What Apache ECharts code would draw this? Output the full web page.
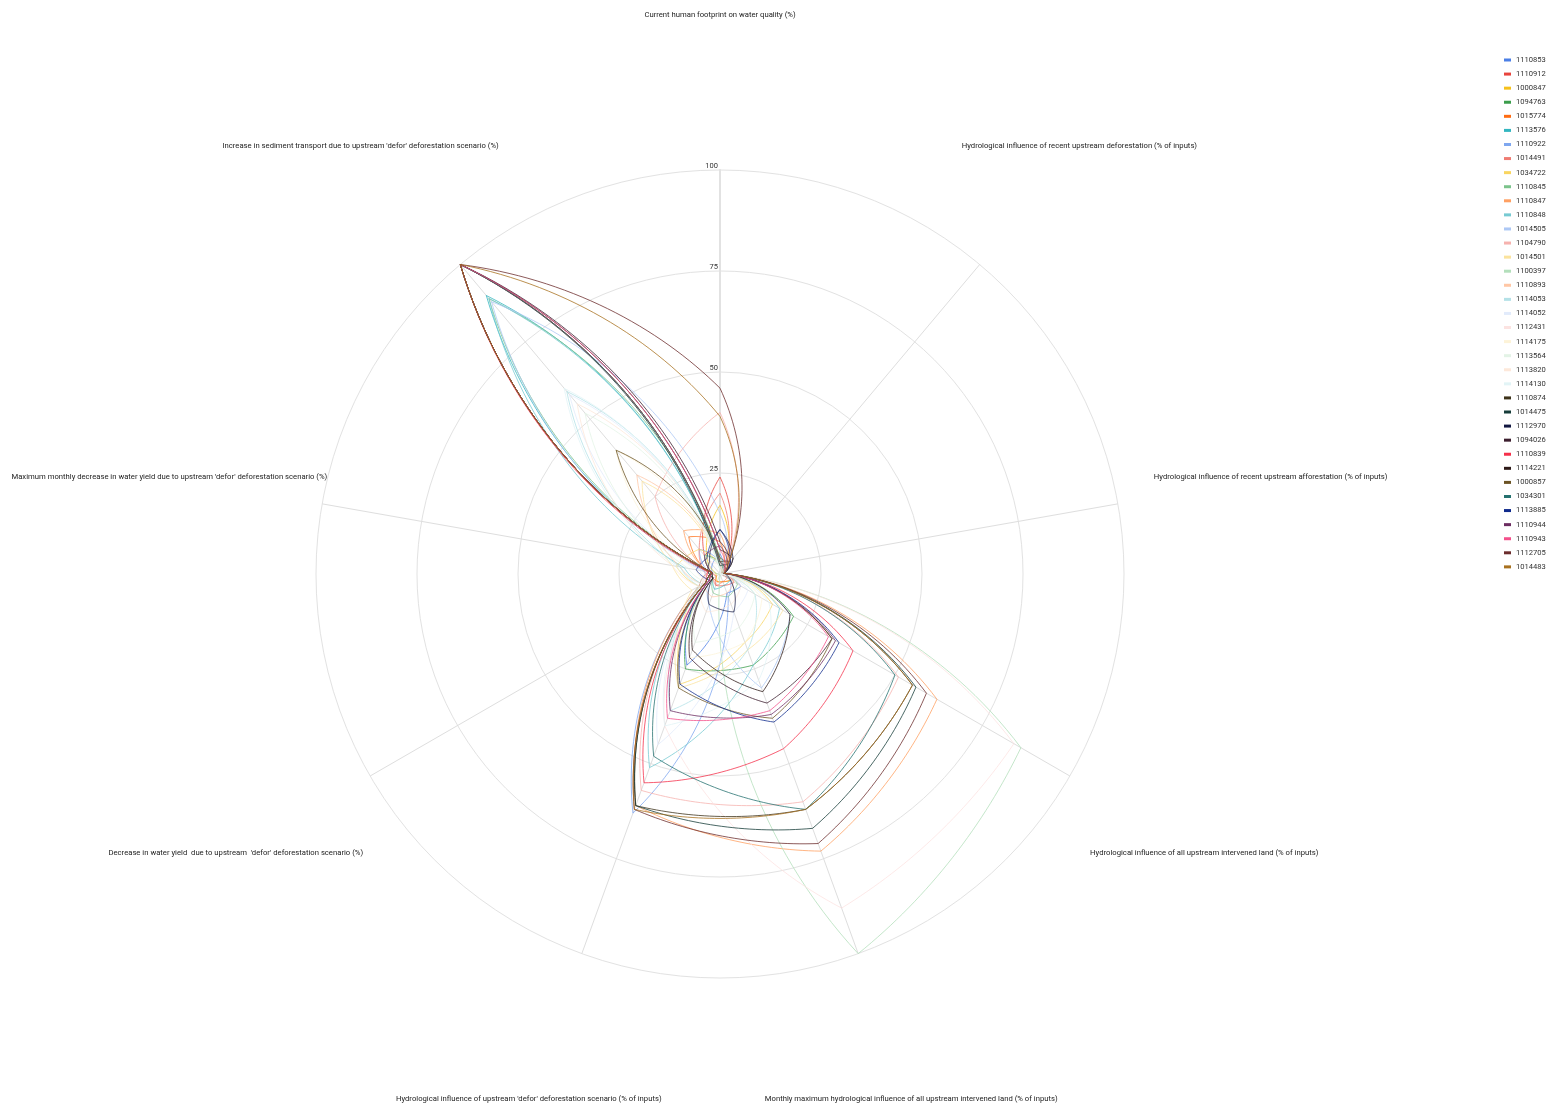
<!DOCTYPE html>
<html>
<head>
<meta charset="utf-8">
<title>Upstream influence profiles</title>
<script src="https://cdn.jsdelivr.net/npm/echarts@6/dist/echarts.min.js"></script>
<style>
  html, body { margin: 0; padding: 0; background: #ffffff; }
  #chart { width: 1554px; height: 1106px; }
</style>
</head>
<body>
<div id="chart"></div>
<script>
// Indicator names, clockwise from the top spoke
const AXIS_NAMES = [
  'Current human footprint on water quality (%)',
  'Hydrological influence of recent upstream deforestation (% of inputs)',
  'Hydrological influence of recent upstream afforestation (% of inputs)',
  'Hydrological influence of all upstream intervened land (% of inputs)',
  'Monthly maximum hydrological influence of all upstream intervened land (% of inputs)',
  "Hydrological influence of upstream 'defor' deforestation scenario (% of inputs)",
  "Decrease in water yield  due to upstream  'defor' deforestation scenario (%)",
  "Maximum monthly decrease in water yield due to upstream 'defor' deforestation scenario (%)",
  "Increase in sediment transport due to upstream 'defor' deforestation scenario (%)"
];

// Basin identifiers (one line each)
const BASINS = [
  '1110853', '1110912', '1000847', '1094763', '1015774', '1113576', '1110922', '1014491',
  '1034722', '1110845', '1110847', '1110848', '1014505', '1104790', '1014501', '1100397',
  '1110893', '1114053', '1114052', '1112431', '1114175', '1113564', '1113820', '1114130',
  '1110874', '1014475', '1112970', '1094026', '1110839', '1114221', '1000857', '1034301',
  '1113885', '1110944', '1110943', '1112705', '1014483'
];

// Values per indicator, in basin order
const FOOTPRINT = [5, 24, 17, 3, 8, 2, 3, 20, 2, 4, 10, 2, 15, 40, 2, 2, 3, 2, 1, 2, 1, 1, 2, 1, 3, 2, 11, 8, 3, 6, 4, 3, 11, 7, 6, 46, 39];
const RECENT_DEFOR = [1, 2, 2, 1, 1, 0, 1, 1, 0, 1, 2, 0, 1, 2, 1, 1, 0, 0, 0, 1, 0, 0, 0, 0, 4, 3, 5, 4, 2, 5, 3, 2, 4, 3, 2, 3, 3];
const RECENT_AFFOR = [0, 1, 0, 1, 0, 0, 0, 0, 1, 1, 1, 1, 0, 1, 0, 1, 0, 0, 0, 1, 0, 0, 0, 0, 1, 1, 1, 1, 1, 1, 1, 1, 1, 1, 1, 1, 1];
const ALL_INTERVENED = [6, 4, 3, 21, 3, 3, 3, 2, 15, 5, 62, 17, 20, 51, 18, 86, 4, 10, 8, 84, 12, 10, 6, 14, 55, 56, 3, 32, 38, 20, 32, 50, 34, 33, 31, 59, 55];
const MONTHLY_MAX = [5, 3, 2, 24, 2, 3, 6, 2, 18, 6, 73, 24, 30, 60, 20, 100, 5, 20, 10, 88, 18, 14, 8, 28, 62, 67, 10, 34, 46, 31, 38, 62, 39, 37, 36, 71, 62];
const DEFOR_SCENARIO = [24, 3, 2, 25, 2, 4, 63, 3, 29, 5, 61, 51, 8, 57, 30, 0, 6, 36, 45, 40, 22, 18, 10, 40, 61, 61, 8, 22, 55, 20, 30, 48, 29, 36, 38, 62, 62];
const YIELD_DECREASE = [4, 1, 1, 3, 2, 2, 6, 2, 6, 2, 6, 5, 3, 5, 8, 0, 5, 6, 4, 3, 4, 4, 6, 5, 4, 4, 2, 2, 4, 2, 3, 4, 3, 3, 3, 4, 4];
const MAX_MONTHLY_DECREASE = [2, 2, 1, 2, 3, 3, 3, 4, 11, 2, 3, 9, 4, 3, 12, 1, 10, 10, 5, 2, 6, 8, 12, 11, 2, 2, 3, 2, 3, 2, 2, 2, 6, 2, 2, 2, 2];
const SEDIMENT = [3, 6, 5, 6, 12, 90, 8, 8, 8, 89, 14, 89, 88, 25, 30, 6, 32, 59, 58, 4, 40, 52, 55, 60, 100, 100, 4, 100, 100, 100, 40, 100, 5, 6, 100, 100, 100];

const RADIUS_TICKS = [0, 25, 50, 75, 100];

// Line colours, in basin order
const PALETTE = [
  '#4b7fe6', '#e8443d', '#f6c11b', '#3b9d4b', '#ff6c12', '#33b6c0', '#7fa7ef', '#ef7c73',
  '#f9d560', '#7bc38b', '#ffa062', '#77cad2', '#adc8f5', '#f6b2ae', '#fbe39d', '#b3dfbb',
  '#ffc7a5', '#b4e1e7', '#e2ebfb', '#fce3e1', '#fdf3d8', '#e3f3e6', '#fde8da', '#e2f4f6',
  '#3d3219', '#163c39', '#121741', '#3c1e2e', '#f5304a', '#2d1917', '#6b5324', '#25716f',
  '#0f2a8c', '#6c2c61', '#f4508b', '#6b2c2c', '#a8711f'
];

const COLUMNS = [FOOTPRINT, RECENT_DEFOR, RECENT_AFFOR, ALL_INTERVENED, MONTHLY_MAX,
  DEFOR_SCENARIO, YIELD_DECREASE, MAX_MONTHLY_DECREASE, SEDIMENT];
const STEP = 360 / AXIS_NAMES.length;
const NAME_RADIUS = 138.4;   // indicator titles sit outside the 0-100 range
const SEGMENT_SAMPLES = 32;
const BULGE = 0.6;           // how far each segment follows the polar (angle-linear) path

// Each segment runs between two spokes, interpolated in polar space and
// eased toward the straight chord so the petals keep their slim shape.
function renderProfile(params, api) {
  const n = AXIS_NAMES.length;
  const vals = [];
  for (let i = 0; i < n; i++) vals.push(api.value(i));
  const pts = [];
  for (let i = 0; i < n; i++) {
    const r0 = vals[i];
    const r1 = vals[(i + 1) % n];
    const a0 = i * STEP;
    const p0 = api.coord([r0, a0]);
    const p1 = api.coord([r1, a0 + STEP]);
    for (let k = 0; k < SEGMENT_SAMPLES; k++) {
      const t = k / SEGMENT_SAMPLES;
      const s = api.coord([r0 + (r1 - r0) * t, a0 + STEP * t]);
      const cx = p0[0] + (p1[0] - p0[0]) * t;
      const cy = p0[1] + (p1[1] - p0[1]) * t;
      pts.push([cx + (s[0] - cx) * BULGE, cy + (s[1] - cy) * BULGE]);
    }
  }
  return {
    type: 'polygon',
    shape: { points: pts },
    style: { fill: 'none', stroke: api.visual('color'), lineWidth: 1, opacity: 0.78 }
  };
}

function renderAxisName(params, api) {
  const idx = api.value(0);
  const p = api.coord([NAME_RADIUS, idx * STEP]);
  return {
    type: 'text',
    x: p[0],
    y: p[1],
    style: {
      text: AXIS_NAMES[idx],
      fill: '#222222',
      font: '7.7px Roboto, sans-serif',
      align: 'center',
      verticalAlign: 'middle'
    }
  };
}

const profileSeries = BASINS.map((id, b) => ({
  name: id,
  type: 'custom',
  coordinateSystem: 'polar',
  dimensions: AXIS_NAMES.map((_, i) => 'v' + i),
  encode: { radius: 0, angle: 1 },
  itemStyle: { color: PALETTE[b] },
  renderItem: renderProfile,
  data: [COLUMNS.map(col => col[b])],
  silent: true,
  z: 3
}));

const chart = echarts.init(document.getElementById('chart'), null, { renderer: 'canvas' });
chart.setOption({
  animation: false,
  backgroundColor: '#ffffff',
  polar: { center: [720, 574], radius: 404 },
  angleAxis: {
    type: 'value',
    min: 0,
    max: 360,
    interval: STEP,
    startAngle: 90,
    clockwise: true,
    axisLine: { show: false },
    axisTick: { show: false },
    axisLabel: { show: false },
    splitLine: { show: true, lineStyle: { color: '#dedede', width: 1 } }
  },
  radiusAxis: {
    type: 'value',
    min: RADIUS_TICKS[0],
    max: RADIUS_TICKS[RADIUS_TICKS.length - 1],
    interval: RADIUS_TICKS[1] - RADIUS_TICKS[0],
    axisLine: { show: true, lineStyle: { color: '#e2e2e2', width: 2 } },
    axisTick: { show: false },
    axisLabel: {
      showMinLabel: false,
      color: '#333333',
      fontFamily: 'Roboto',
      fontSize: 7.5,
      margin: 2,
      align: 'right',
      verticalAlign: 'bottom'
    },
    splitLine: { show: true, lineStyle: { color: '#e2e2e2', width: 1 } }
  },
  legend: {
    orient: 'vertical',
    left: 1504,
    top: 55,
    padding: 0,
    icon: 'rect',
    itemWidth: 7,
    itemHeight: 3,
    itemGap: 4.08,
    data: BASINS,
    textStyle: { fontFamily: 'Roboto', fontSize: 7.6, color: '#333333', lineHeight: 10 }
  },
  series: profileSeries.concat([{
    name: 'indicator titles',
    type: 'custom',
    coordinateSystem: 'polar',
    renderItem: renderAxisName,
    data: AXIS_NAMES.map((_, i) => [i]),
    encode: { radius: 0 },
    silent: true,
    z: 4
  }])
});
</script>
</body>
</html>
